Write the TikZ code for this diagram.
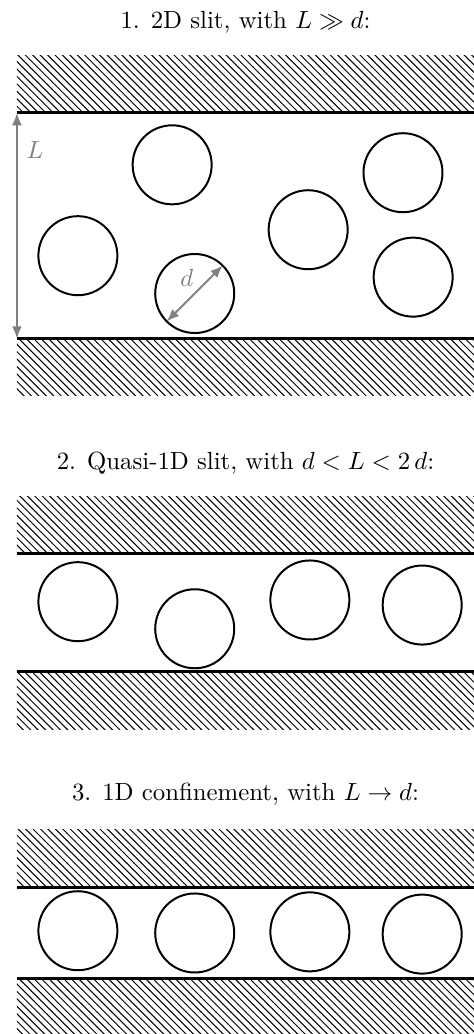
\documentclass[tikz,border=0pt]{standalone}
\usepackage{amsmath,amssymb}
\usetikzlibrary{arrows.meta,patterns}
\definecolor{dimgray}{gray}{0.5}

\begin{document}
\begin{tikzpicture}[x=0.8cm, y=0.8cm,
  wall/.style={line width=1.2pt},
  hatch/.style={pattern=north west lines},
  ball/.style={circle, draw, thick, minimum size=1.12cm, inner sep=0pt, outer sep=0pt},
  dimarrow/.style={dimgray, thick, {Latex[length=5pt,width=4pt]}-{Latex[length=5pt,width=4pt]}},
  caption/.style={anchor=base}]
\useasboundingbox (0,0) rectangle (8.397,-18.32);
% 1. 2D slit
\node[caption] (t1) at (4.35,-0.51) {1. 2D slit, with $L \gg d$:};
\fill[hatch] (0.3,-0.98) rectangle (8.4,-2);
\fill[hatch] (0.3,-6) rectangle (8.4,-7);
\draw[wall] (0.3,-2) -- (8.4,-2) (0.3,-6) -- (8.4,-6);
\foreach \n/\x/\y in {1/3.05/-2.92, 2/1.38/-4.53, 3/3.45/-5.2, 4/5.46/-4.07, 5/7.14/-3.06, 6/7.32/-4.91}
  \node[ball] (b1\n) at (\x,\y) {};
\coordinate (wt1) at (0.3,-2);
\coordinate (wb1) at (0.3,-6);
\draw[dimarrow] (wt1) -- (wb1);
\node[dimgray] (lL) at (0.62,-2.66) {$L$};
\draw[dimarrow] (b13.225) -- (b13.45);
\node[dimgray] (ld) at (3.31,-4.92) {$d$};
% 2. quasi-1D slit
\node[caption] (t2) at (4.35,-8.31) {2. Quasi-1D slit, with $d < L < 2\,d$:};
\fill[hatch] (0.3,-8.8) rectangle (8.4,-9.8);
\fill[hatch] (0.3,-11.9) rectangle (8.4,-12.93);
\draw[wall] (0.3,-9.8) -- (8.4,-9.8) (0.3,-11.9) -- (8.4,-11.9);
\foreach \n/\x/\y in {1/1.38/-10.66, 2/3.45/-11.14, 3/5.49/-10.63, 4/7.48/-10.72}
  \node[ball] (b2\n) at (\x,\y) {};
% 3. 1D confinement
\node[caption] (t3) at (4.35,-14.19) {3. 1D confinement, with $L \to d$:};
\fill[hatch] (0.3,-14.7) rectangle (8.4,-15.73);
\fill[hatch] (0.3,-17.33) rectangle (8.4,-18.32);
\draw[wall] (0.3,-15.73) -- (8.4,-15.73) (0.3,-17.33) -- (8.4,-17.33);
\foreach \n/\x/\y in {1/1.38/-16.49, 2/3.45/-16.53, 3/5.49/-16.51, 4/7.48/-16.55}
  \node[ball] (b3\n) at (\x,\y) {};
\end{tikzpicture}
\end{document}
